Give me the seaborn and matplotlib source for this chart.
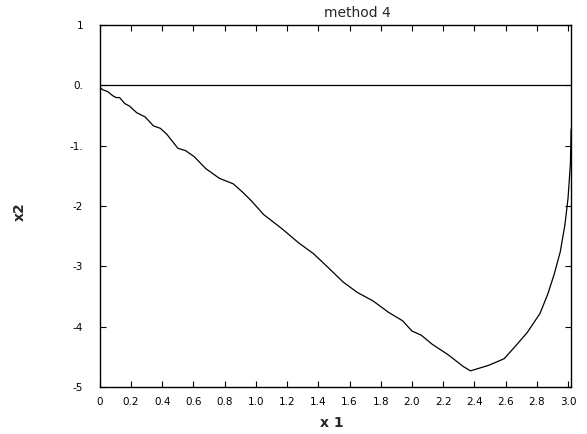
import matplotlib
matplotlib.use("Agg")
import matplotlib.pyplot as plt
import seaborn as sns
import pandas as pd

x1 = [0.0, 0.018, 0.05, 0.083, 0.105, 0.127, 0.16, 0.19, 0.236, 0.29, 0.344, 0.388,
      0.43, 0.50, 0.55, 0.605, 0.68, 0.767, 0.855, 0.92, 0.974, 1.05, 1.10, 1.17,
      1.27, 1.37, 1.46, 1.56, 1.65, 1.75, 1.85, 1.94, 2.00, 2.06, 2.13, 2.23, 2.33,
      2.375, 2.49, 2.59, 2.66, 2.74, 2.82, 2.87, 2.91, 2.95, 2.98, 3.0, 3.015, 3.02]
x2 = [-0.03, -0.07, -0.10, -0.17, -0.20, -0.20, -0.30, -0.34, -0.45, -0.52, -0.67, -0.71,
      -0.81, -1.04, -1.08, -1.18, -1.38, -1.54, -1.63, -1.78, -1.92, -2.14, -2.24, -2.38,
      -2.60, -2.79, -3.01, -3.26, -3.43, -3.57, -3.76, -3.90, -4.07, -4.14, -4.29, -4.46, -4.66,
      -4.73, -4.64, -4.53, -4.33, -4.09, -3.78, -3.46, -3.14, -2.76, -2.31, -1.87, -1.31, -0.72]

xticks = [0.0, 0.2, 0.4, 0.6, 0.8, 1.0, 1.2, 1.4, 1.6, 1.8, 2.0, 2.2, 2.4, 2.6, 2.8, 3.0]
xtick_labels = ["0", "0.2", "0.4", "0.6", "0.8", "1.0", "1.2", "1.4", "1.6", "1.8",
                "2.0", "2.2", "2.4", "2.6", "2.8", "3.0"]
yticks = [1, 0, -1, -2, -3, -4, -5]
ytick_labels = ["1", "0.", "-1.", "-2", "-3", "-4", "-5"]

sns.set_style("ticks")
plt.rcParams['font.family'] = ['DejaVu Sans']

fig = plt.figure(figsize=(5.87, 4.34), dpi=100)
ax = fig.add_axes([0.170, 0.108, 0.803, 0.834])

df = pd.DataFrame({"x1": x1, "x2": x2})
sns.lineplot(data=df, x="x1", y="x2", sort=False, estimator=None, color="black",
             linewidth=0.9, ax=ax)
ax.axhline(0, color="black", linewidth=0.9)

ax.set_xlim(0, 3.02)
ax.set_ylim(-5, 1)
ax.set_xticks(xticks)
ax.set_xticklabels(xtick_labels)
ax.set_yticks(yticks)
ax.set_yticklabels(ytick_labels)
ax.tick_params(direction="in", length=4, width=0.8, top=True, right=True,
               labelsize=7.5, colors="black")
ax.tick_params(axis="y", pad=12)
ax.tick_params(axis="x", pad=7)
for s in ax.spines.values():
    s.set_linewidth(1.0)
    s.set_color("black")

ax.set_xlabel("")
ax.set_ylabel("")
fig.text(332 / 587, 1 - 423 / 434, "x 1", ha="center", va="center", fontsize=10,
         fontweight="bold")
fig.text(20 / 587, 1 - 212 / 434, "x2", ha="center", va="center", fontsize=10,
         fontweight="bold", rotation=90)
fig.text(357 / 587, 1 - 13 / 434, "method 4", ha="center", va="center", fontsize=10)

fig.savefig("out.png", dpi=100, facecolor="white")
